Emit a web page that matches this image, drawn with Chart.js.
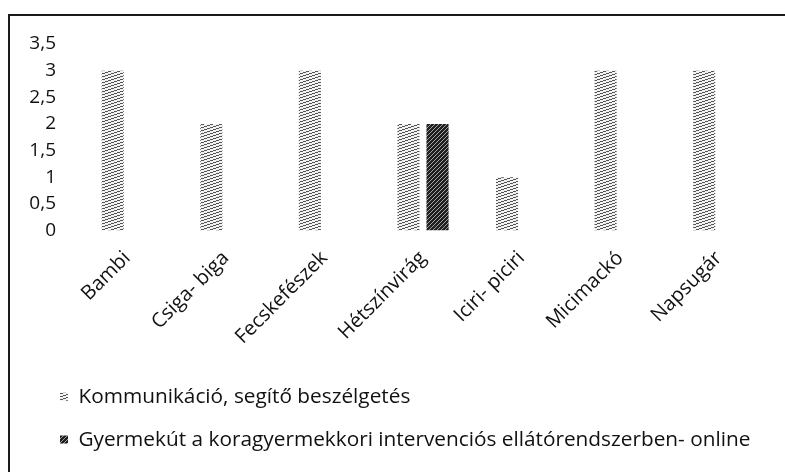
<!DOCTYPE html>
<html>
<head>
<meta charset="utf-8">
<script src="https://cdn.jsdelivr.net/npm/chart.js@4"></script>
<style>
  html, body { margin: 0; padding: 0; background: #fff; }
  #wrap { position: relative; width: 785px; height: 472px; overflow: hidden; }
  #frame {
    position: absolute; left: 8px; top: 14px; right: -10px; bottom: -10px;
    border-left: 2px solid #1a1a1a; border-top: 2px solid #1a1a1a;
    pointer-events: none;
  }
  canvas { position: absolute; left: 0; top: 0; }
</style>
</head>
<body>
<div id="wrap">
  <canvas id="chart" width="785" height="472"></canvas>
  <div id="frame"></div>
</div>
<script>
// ==================== DATA ====================
const categories = ['Bambi', 'Csiga- biga', 'Fecskefészek', 'Hétszínvirág', 'Iciri- piciri', 'Micimackó', 'Napsugár'];
const seriesNames = [
    'Kommunikáció, segítő beszélgetés',
    'Gyermekút a koragyermekkori intervenciós ellátórendszerben- online'
];
const kommunikacio = [3, 2, 3, 2, 1, 3, 3];
const gyermekut = [null, null, null, 2, null, null, null];
const yTickLabels = ['0', '0,5', '1', '1,5', '2', '2,5', '3', '3,5'];

const FAMILY = "'Open Sans', sans-serif";

// small pixel tiles to mimic the printed hatch fills
function makePattern(bg, fg, rows) {
    const c = document.createElement('canvas');
    c.width = rows[0].length;
    c.height = rows.length;
    const g = c.getContext('2d');
    g.fillStyle = bg;
    g.fillRect(0, 0, c.width, c.height);
    g.fillStyle = fg;
    rows.forEach((r, y) => {
        [...r].forEach((ch, x) => { if (ch === '#') g.fillRect(x, y, 1, 1); });
    });
    return g.createPattern(c, 'repeat');
}

const lightHatch = makePattern('#f2f2f2', '#555555', [
    '......###',
    '...###...',
    '###......'
]);
const darkHatch = makePattern('#a0a0a0', '#202020', [
    '##.#',
    '#.##',
    '.###',
    '###.'
]);

// nudge the legend a little to the right, like the original
const legendShift = {
    id: 'legendShift',
    afterLayout(chart) {
        if (chart.legend) {
            chart.legend.left += 10;
            chart.legend.right += 10;
        }
    }
};

const ctx = document.getElementById('chart').getContext('2d');

new Chart(ctx, {
    type: 'bar',
    data: {
        labels: categories,
        datasets: [
            {
                label: seriesNames[0],
                data: kommunikacio,
                backgroundColor: lightHatch,
                borderWidth: 0,
                categoryPercentage: 0.59,
                barPercentage: 0.76
            },
            {
                label: seriesNames[1],
                data: gyermekut,
                backgroundColor: darkHatch,
                borderWidth: 0,
                categoryPercentage: 0.59,
                barPercentage: 0.76
            }
        ]
    },
    options: {
        responsive: false,
        animation: false,
        layout: { padding: { left: 28, right: 17, top: 44, bottom: 12 } },
        plugins: {
            legend: {
                position: 'bottom',
                align: 'start',
                labels: {
                    font: { family: FAMILY, size: 20.8 },
                    color: '#111',
                    boxWidth: 8,
                    boxHeight: 8,
                    padding: 22
                }
            },
            tooltip: { enabled: false }
        },
        scales: {
            x: {
                grid: { display: false, drawTicks: false },
                border: { display: false },
                ticks: {
                    font: { family: FAMILY, size: 20 },
                    color: '#111',
                    minRotation: 45,
                    maxRotation: 45,
                    padding: 16
                },
                afterFit: scale => { scale.height = 134; }
            },
            y: {
                min: 0,
                max: 3.5,
                grid: { display: false, drawTicks: false },
                border: { display: false },
                ticks: {
                    stepSize: 0.5,
                    font: { family: FAMILY, size: 19 },
                    color: '#111',
                    padding: 22,
                    callback: (value, index) => yTickLabels[index]
                },
                afterFit: scale => { scale.width = 50; }
            }
        }
    },
    plugins: [legendShift]
});
</script>
</body>
</html>
